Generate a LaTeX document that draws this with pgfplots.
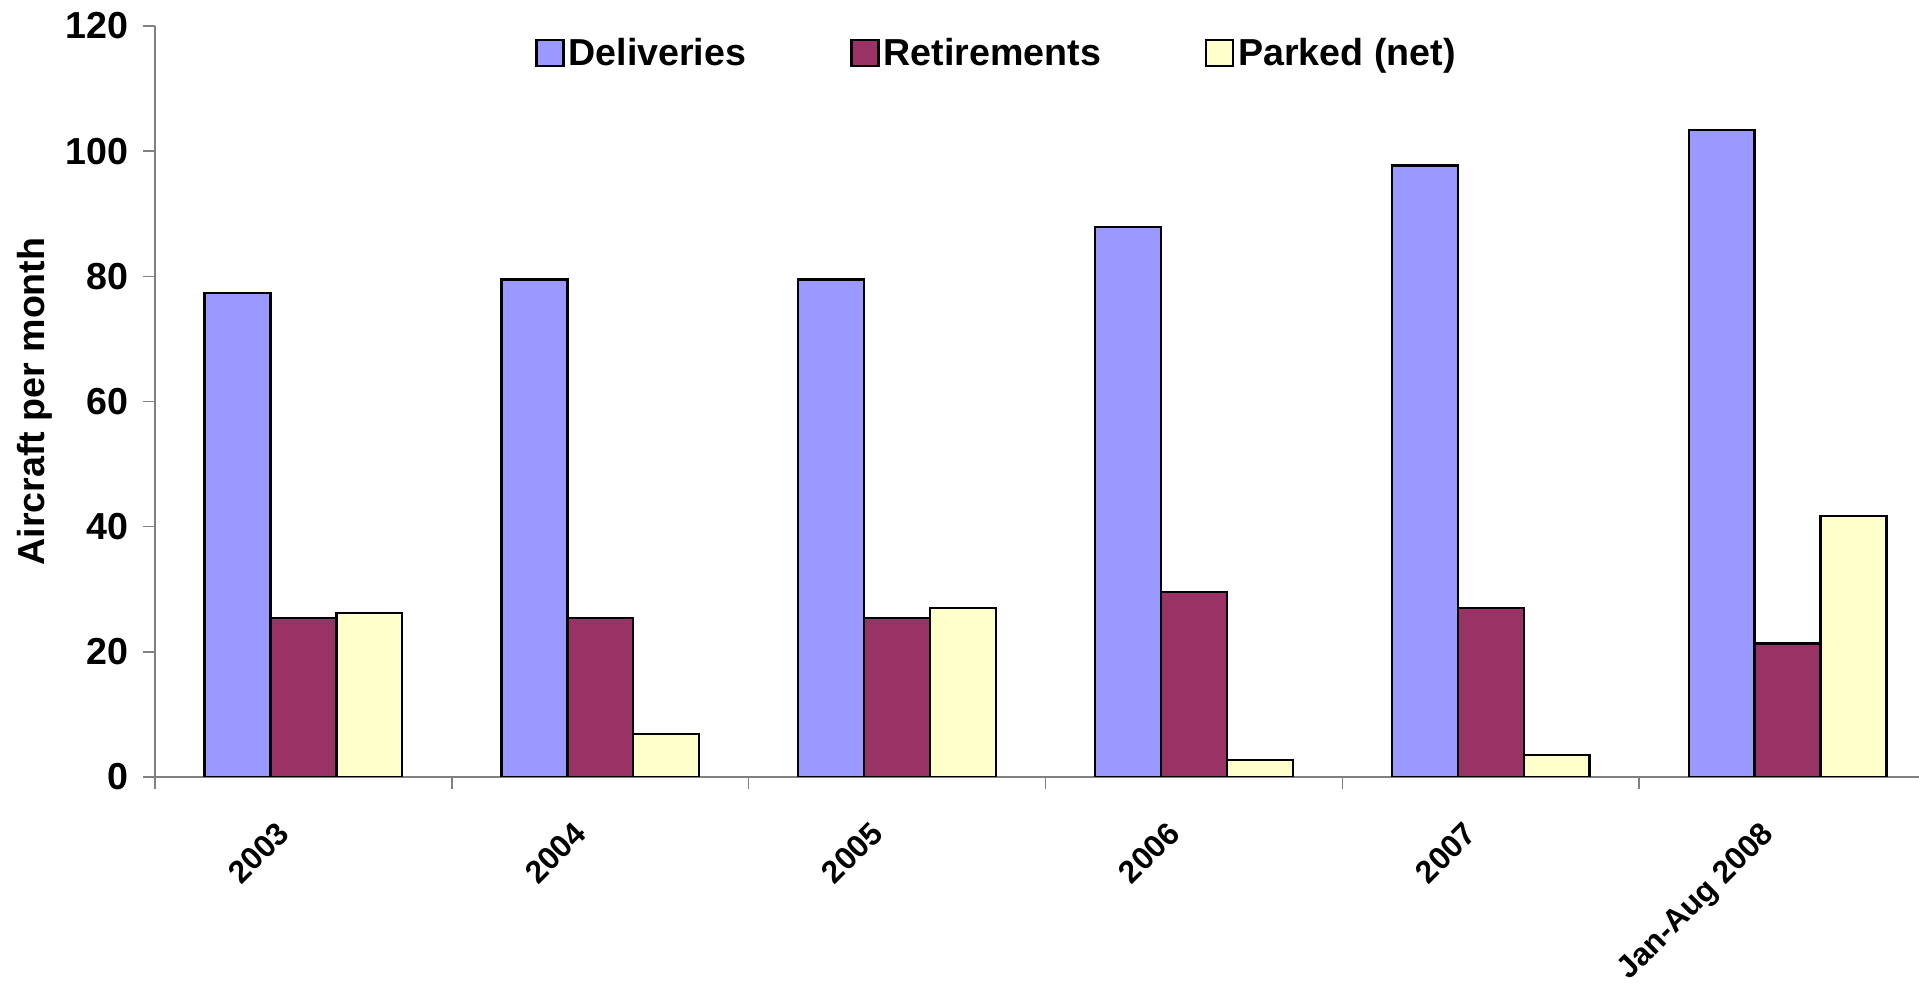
\documentclass[border=0pt]{standalone}
\usepackage{pgfplots}
\pgfplotsset{compat=1.18}
\usepackage{fontspec}
\setmainfont{Liberation Sans}

\definecolor{deliv}{HTML}{9999FF}
\definecolor{retir}{HTML}{993366}
\definecolor{parked}{HTML}{FFFFCC}
\definecolor{axisgray}{HTML}{808080}

\begin{document}
\begin{tikzpicture}
\begin{axis}[
  at={(0,0)}, anchor=south west,
  scale only axis,
  width=890.5pt, height=375.5pt,
  font=\bfseries\fontsize{18.8}{22}\selectfont,
  /pgf/number format/assume math mode=true,
  ybar=0pt, bar width=0.222,
  xmin=-0.5, xmax=5.5,
  ymin=0, ymax=120,
  ytick={0,20,...,120},
  xtick={-0.5,0.5,...,5.5},
  x tick label as interval,
  xticklabels={2003,2004,2005,2006,2007,Jan-Aug 2008},
  axis lines=left,
  axis line style={-, draw=axisgray, line width=0.8pt},
  tick style={draw=axisgray, line width=0.8pt},
  tick align=outside,
  major tick length=6pt,
  yticklabel style={xshift=-4pt},
  xticklabel style={xshift=-14pt, yshift=-10.5pt, rotate=45, anchor=north east,
    font=\bfseries\fontsize{15.8}{18}\selectfont},
  ylabel={Aircraft per month},
  ylabel style={at={(axis description cs:-0.0674,0.5)}, anchor=center},
  legend columns=3,
  legend style={
    at={(rel axis cs:0.473,0.99)}, anchor=north,
    draw=none, fill=none, inner sep=0pt,
    font=\bfseries\fontsize{18.8}{22}\selectfont,
    /tikz/column 2/.style={column sep=50pt},
    /tikz/column 4/.style={column sep=50pt},
  },
  legend image code/.code={\draw[#1, line width=1.2pt] (0pt,-6.5pt) rectangle (13.5pt,6.5pt);},
  every axis plot/.append style={draw=black, line width=1.2pt},
]
\addplot[fill=deliv] coordinates {(0,77.3) (1,79.5) (2,79.5) (3,87.9) (4,97.7) (5,103.4)};
\addplot[fill=retir] coordinates {(0,25.4) (1,25.4) (2,25.4) (3,29.6) (4,27.0) (5,21.3)};
\addplot[fill=parked] coordinates {(0,26.2) (1,6.9) (2,27.0) (3,2.7) (4,3.5) (5,41.7)};
\legend{Deliveries, Retirements, Parked (net)}
\end{axis}
\pgfresetboundingbox
\useasboundingbox (-77.5pt,-105.5pt) rectangle (882pt,388.5pt);
\end{tikzpicture}
\end{document}
